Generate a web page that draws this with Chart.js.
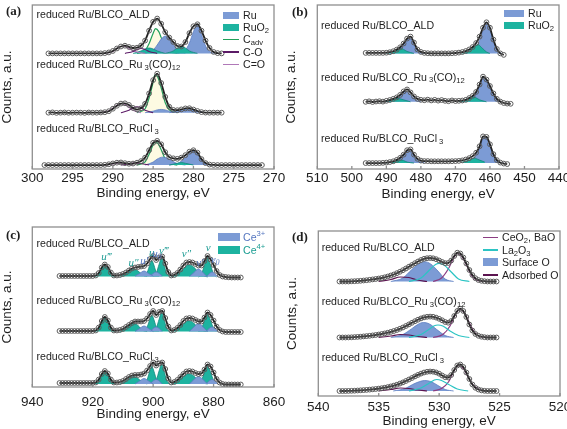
<!DOCTYPE html>
<html>
<head>
<meta charset="utf-8">
<script src="https://cdn.jsdelivr.net/npm/chart.js@4.4.1/dist/chart.umd.min.js"></script>
<style>
  html, body { margin: 0; padding: 0; background: #fff; }
  body { position: relative; width: 567px; height: 429px; overflow: hidden; font-family: "Liberation Sans", Arial, sans-serif; color: #1e1e1e; }
  canvas { position: absolute; }
  .t { position: absolute; font-size: 10.6px; line-height: 12px; white-space: nowrap; }
  .t sub, .t sup { font-size: 0.72em; line-height: 0; }
  .t sub { vertical-align: -0.2em; }
  .t sub.g { margin-left: 2px; }
  .p { position: absolute; font-family: "Liberation Serif", "Times New Roman", serif; font-weight: bold; font-size: 13px; line-height: 14px; }
  .sw { position: absolute; }
</style>
</head>
<body>
<canvas id="ca" width="292" height="212" style="left:0;top:0"></canvas>
<canvas id="cb" width="291" height="212" style="left:276px;top:0"></canvas>
<canvas id="cc" width="292" height="217" style="left:0;top:212px"></canvas>
<canvas id="cd" width="291" height="217" style="left:276px;top:212px"></canvas>

<!-- panel letters -->
<div class="p" style="left:6px;top:4px">(a)</div>
<div class="p" style="left:292px;top:5px">(b)</div>
<div class="p" style="left:6px;top:228px">(c)</div>
<div class="p" style="left:292px;top:230px">(d)</div>

<!-- sample names -->
<div class="t" style="left:36.5px;top:8px">reduced Ru/BLCO_ALD</div>
<div class="t" style="left:36.5px;top:58px">reduced Ru/BLCO_Ru<sub class="g">3</sub>(CO)<sub>12</sub></div>
<div class="t" style="left:36.5px;top:122px">reduced Ru/BLCO_RuCl<sub class="g">3</sub></div>

<div class="t" style="left:321px;top:19px">reduced Ru/BLCO_ALD</div>
<div class="t" style="left:321px;top:70.5px">reduced Ru/BLCO_Ru<sub class="g">3</sub>(CO)<sub>12</sub></div>
<div class="t" style="left:321px;top:132px">reduced Ru/BLCO_RuCl<sub class="g">3</sub></div>

<div class="t" style="left:36.5px;top:236.5px">reduced Ru/BLCO_ALD</div>
<div class="t" style="left:36.5px;top:294px">reduced Ru/BLCO_Ru<sub class="g">3</sub>(CO)<sub>12</sub></div>
<div class="t" style="left:36.5px;top:350px">reduced Ru/BLCO_RuCl<sub class="g">3</sub></div>

<div class="t" style="left:321.7px;top:241px">reduced Ru/BLCO_ALD</div>
<div class="t" style="left:321.7px;top:295px">reduced Ru/BLCO_Ru<sub class="g">3</sub>(CO)<sub>12</sub></div>
<div class="t" style="left:321.7px;top:351px">reduced Ru/BLCO_RuCl<sub class="g">3</sub></div>

<!-- legend (a) -->
<div class="sw" style="left:223px;top:11.5px;width:16px;height:7px;background:#7c9bd5"></div>
<div class="t" style="left:243px;top:9px">Ru</div>
<div class="sw" style="left:223px;top:24px;width:16px;height:7px;background:#1db3a0"></div>
<div class="t" style="left:243px;top:21px">RuO<sub>2</sub></div>
<div class="sw" style="left:223px;top:38.5px;width:16px;height:1.5px;background:#22a05a"></div>
<div class="t" style="left:243px;top:33px">C<sub>adv</sub></div>
<div class="sw" style="left:223px;top:51px;width:16px;height:1.5px;background:#5b1a66"></div>
<div class="t" style="left:243px;top:45.5px">C-O</div>
<div class="sw" style="left:223px;top:63.5px;width:16px;height:1.5px;background:#b078b8"></div>
<div class="t" style="left:243px;top:58px">C=O</div>

<!-- legend (b) -->
<div class="sw" style="left:504px;top:9.5px;width:20px;height:7px;background:#7c9bd5"></div>
<div class="t" style="left:528px;top:7px">Ru</div>
<div class="sw" style="left:504px;top:21.5px;width:20px;height:7px;background:#1db3a0"></div>
<div class="t" style="left:528px;top:19px">RuO<sub>2</sub></div>

<!-- legend (c) -->
<div class="sw" style="left:218px;top:232.5px;width:22px;height:8px;background:#7c9bd5"></div>
<div class="t" style="left:243px;top:230.5px;color:#5677c0">Ce<sup>3+</sup></div>
<div class="sw" style="left:218px;top:246px;width:22px;height:8px;background:#1db3a0"></div>
<div class="t" style="left:243px;top:244px;color:#1a9d92">Ce<sup>4+</sup></div>

<!-- legend (d) -->
<div class="sw" style="left:483px;top:236.5px;width:15px;height:1.5px;background:#8b3c82"></div>
<div class="t" style="left:502px;top:231px">CeO<sub>2</sub>, BaO</div>
<div class="sw" style="left:483px;top:249px;width:15px;height:1.5px;background:#2cc4c4"></div>
<div class="t" style="left:502px;top:243.5px">La<sub>2</sub>O<sub>3</sub></div>
<div class="sw" style="left:483px;top:258px;width:15px;height:8px;background:#7c9bd5"></div>
<div class="t" style="left:502px;top:256px">Surface O</div>
<div class="sw" style="left:483px;top:274px;width:15px;height:1.5px;background:#5c1450"></div>
<div class="t" style="left:502px;top:268.5px">Adsorbed O</div>

<script>
// ---------- (a) C 1s / Ru 3d ----------
const aEnergy = [298.5, 298, 297.5, 297, 296.5, 296, 295.5, 295, 294.5, 294, 293.5, 293, 292.5, 292, 291.5, 291,
  290.5, 290, 289.5, 289, 288.5, 288, 287.5, 287, 286.5, 286, 285.5, 285, 284.5, 284, 283.5, 283, 282.5, 282,
  281.5, 281, 280.5, 280, 279.5, 279, 278.5, 278, 277.5, 277, 276.5, 276, 275.5, 275, 274.5, 274, 273.5, 273,
  272.5, 272, 271.5];
const aAld = [null, 117, 117, 117, 117, 117, 117, 117, 117, 117, 117, 117, 117, 117, 117, 117.3,
  118, 119.5, 122, 124, 124.8, 123.5, 122.5, 122.8, 125, 130, 140, 149, 152.3, 147, 138.5, 133, 128.5, 124.5,
  124, 128.5, 137.5, 144.5, 146.5, 140, 130, 122.5, 118.5, 117.3, 117, null, null, null, null, null, null, null,
  null, null, null];
const aRu3 = [null, 57, 57.3, 56.8, 57, 57.2, 56.9, 57, 57.1, 57, 56.8, 57.2, 57, 57, 57.2, 57.5,
  58.5, 61, 64, 66.2, 66.5, 64.8, 61.8, 60.2, 61.5, 66, 76.5, 90, 96.5, 87, 73, 63, 59.8, 59.5,
  60.3, 61.3, 61.5, 60.2, 58.7, 57.6, 57.1, 57, 57, 57, 57, null, null, null, null, null, null, null,
  null, null, null];
const aCl = [4, 4, 4, 4, 4, 4, 4, 4, 4, 4, 4, 4, 4, 4, 4, 4.2,
  4.8, 5.6, 6.4, 6.6, 5.9, 5.3, 5.5, 6.4, 8, 11.5, 19, 26.5, 28.5, 25, 17, 12, 10.8, 10.3,
  11.5, 14, 17.5, 19, 16.5, 10, 6, 4.5, 4.1, 4, 4, 4, 4, 4, 4, 4, 4, 4,
  4, 4, 4];
const aBase = [117, 57, 4];

const aAldRu = [
  [[282, 117], [281, 120.5], [280.5, 127.5], [280, 139], [279.6, 145.5], [279.2, 141], [278.8, 131], [278.3, 121.5], [277.6, 117.5], [277, 117]],
  [[286, 117], [285, 120.5], [284.5, 125.5], [284, 131.5], [283.5, 134.5], [283, 131.5], [282.5, 126], [282, 121], [281, 117.3]]
];
const aAldRuO2 = [
  [[283.5, 117], [282.5, 119.5], [282, 122.5], [281.5, 124], [281, 122.5], [280.5, 119.5], [279.5, 117]],
  [[287.5, 117], [286.5, 119.5], [286, 121.5], [285.5, 122.5], [285, 121.5], [284.5, 119.5], [283.5, 117]]
];
const aAldCadv = [[287, 117], [286, 120], [285.5, 127], [285, 137.5], [284.7, 142], [284.3, 139], [284, 133], [283.5, 123], [283, 119], [282, 117]];
const aAldCO = [[288.5, 117], [287.5, 119], [287, 121], [286.5, 122], [286, 121], [285.5, 119], [284.5, 117]];
const aAldCdO = [[291, 117], [290, 119], [289.5, 122], [289, 124], [288.7, 124.5], [288.3, 123.5], [287.8, 121], [287, 118.5], [286, 117]];

const aRu3Ru = [
  [[283, 57], [282, 58.5], [281.5, 60], [281, 61.3], [280.5, 61.3], [280, 60], [279.5, 58.5], [278.5, 57]],
  [[286, 57], [285, 58.5], [284.5, 59.8], [284, 60.3], [283.5, 59.8], [283, 58.5], [282, 57]]
];
const aRu3Cadv = [[287, 57], [286, 61], [285.5, 72], [285, 88], [284.8, 95], [284.5, 94], [284, 82], [283.5, 67], [283, 60], [282, 57]];
const aRu3CO = [[289, 57], [288, 59.5], [287.5, 62], [287, 63], [286.5, 62], [286, 59.5], [285, 57]];
const aRu3CdO = [[291.5, 57], [290.5, 59], [290, 61.5], [289.5, 64.5], [289, 66.3], [288.5, 65.5], [288, 62.5], [287.5, 59.5], [286.5, 57]];

const aClRu = [
  [[283, 4], [282, 5.5], [281.5, 8], [281, 11.5], [280.5, 16], [280, 18.3], [279.5, 15], [279, 8.5], [278.5, 5], [278, 4]],
  [[286, 4], [285, 7], [284.5, 10], [283.8, 12], [283, 10], [282.5, 7.5], [282, 5.5], [281, 4]]
];
const aClRuO2 = [[[283, 4], [282, 5.8], [281.5, 6.5], [281, 5.8], [280, 4]]];
const aClCadv = [[287, 4], [286, 7.2], [285.5, 15], [285, 24.5], [284.8, 27], [284.5, 26.5], [284, 19.5], [283.5, 10], [283, 6], [282, 4]];
const aClCO = [[289, 4], [288, 5], [287.3, 6.3], [286.5, 5.5], [285.5, 4]];
const aClCdO = [[291, 4], [290, 5], [289.3, 6.2], [288.5, 5.5], [287.5, 4]];

// ---------- (b) Ru 3p ----------
const bEnergy = [496, 495, 494, 493, 492, 491, 490, 489, 488, 487, 486, 485, 484, 483, 482, 481, 480, 479, 478, 477,
  476, 475, 474, 473, 472, 471, 470, 469, 468, 467, 466, 465, 464, 463, 462, 461, 460, 459, 458, 457, 456, 455, 454];
const bAld = [117.5, 117.5, 117.5, 117.5, 117.5, 117.5, 117.7, 118.2, 119.2, 120.8, 123.2, 127, 132, 134, 128, 121, 118.5, 117.5, 117.2, 117,
  117, 117, 117, 117, 117, 117.2, 117.4, 117.8, 118.4, 119.4, 121, 123.5, 127.5, 134, 143, 148.5, 143, 131, 121.5, 117, 115.5, null, null];
const bRu3 = [68, 68.5, 67.8, 68.3, 68.6, 68.2, 69, 69.8, 71, 72.5, 75, 78.5, 80.5, 77.5, 73.5, 71, 70, 69.6, 70.2, 69.4,
  70, 69.2, 69.8, 69, 68.6, 69.4, 68.8, 69, 69.3, 70, 71.8, 74, 78, 85.5, 93.5, 90.5, 84, 76.5, 71, 68.2, 66.8, 66.2, 66];
const bCl = [6, 6, 6, 6, 6, 6.2, 6.5, 7, 7.8, 9.2, 11.3, 14.5, 19, 19.8, 14.5, 10.3, 8.5, 8, 8, 7.8,
  7.8, 7.8, 7.8, 7.8, 7.8, 7.9, 8, 8.2, 8.7, 9.6, 11, 13, 16.5, 23, 33, 32.5, 25, 15, 9, 6.5, 5.5, 5, null];
const bBase = [117, 68, 6];

const bAldRu = [
  [[489, 117], [487, 119.5], [486, 122], [485, 126], [484, 130.5], [483.3, 132.5], [482.5, 130], [482, 126], [481, 120], [480, 117.5], [479, 117]],
  [[467, 117], [465, 120], [464, 123.5], [463, 130], [462, 140], [461, 147], [460, 142], [459, 130], [458, 121], [457, 117.5], [456.5, 117]]
];
const bAldRuO2 = [
  [[490, 117], [488, 119], [487, 121], [486, 122], [485, 121], [484, 119], [482, 117]],
  [[468, 117], [466, 119.5], [465, 122.5], [464, 125], [463.5, 126], [463, 125], [462, 121.5], [461, 118.5], [460, 117]]
];
const bRu3Ru = [
  [[490, 68], [488, 70], [487, 72], [486, 75], [485, 78], [484.5, 79], [484, 78.5], [483, 75], [482, 71.5], [481, 69], [480, 68]],
  [[468, 68], [466, 71], [465, 73.5], [464, 77], [463, 85], [462, 93], [461, 89], [460, 82], [459, 75], [458, 70], [457, 68]]
];
const bRu3RuO2 = [
  [[491, 68], [489, 70], [488, 71], [487, 71.5], [486, 71], [485, 70], [483, 68]],
  [[469, 68], [467, 70.5], [466, 72], [465, 73], [464, 72], [463, 70], [461, 68]]
];
const bClRu = [
  [[489, 6.5], [487, 8.5], [486, 10.5], [485, 14], [484, 18.5], [483.5, 19.5], [483, 18.5], [482, 13.5], [481, 9], [480, 7], [479, 6.5]],
  [[467, 7], [465, 10.5], [464, 14], [463, 21], [462, 31], [461.5, 33], [461, 32], [460, 24.5], [459, 14.5], [458, 8.5], [457, 6.5], [456, 6]]
];
const bClRuO2 = [
  [[490, 6], [488, 7.5], [487, 8.5], [486, 9], [485, 8.5], [484, 7], [482, 6]],
  [[468, 7], [466, 9], [465, 10.5], [464.5, 11], [464, 10.5], [463, 9], [461.5, 7]]
];

// ---------- (c) Ce 3d ----------
const cEnergy = [931, 930, 929, 928, 927, 926, 925, 924, 923, 922, 921, 920, 919, 918, 917, 916, 915, 914, 913, 912,
  911, 910, 909, 908, 907, 906, 905, 904, 903, 902, 901, 900, 899, 898, 897, 896, 895, 894, 893, 892,
  891, 890, 889, 888, 887, 886, 885, 884, 883, 882, 881, 880, 879, 878, 877, 876, 875, 874, 873, 872, 871, 870];
const cAld = [111, 111, 111, 111, 111, 111, 111, 111, 111, 111, 111, 111, 111.5, 114, 119.5, 122.5, 120, 114.5, 111.5, 111.5,
  112, 113, 114.5, 116.5, 118.5, 119.5, 120, 120.5, 121, 123.5, 128, 131, 127, 129.5, 130.5, 123.5, 115, 111.5, 112, 114,
  117.5, 121.5, 124.5, 125, 124.5, 123, 121.5, 121.5, 126, 131, 127.5, 122, 116, 112, 110.5, 110, 109.7, 109.5, 109.5, 109.5, 109.5, null];
const cRu3 = [56, 56, 56, 56, 56, 56, 56, 56, 56, 56, 56, 56, 56.5, 59.5, 66, 70, 66.5, 59.5, 56.5, 56.5,
  57, 58, 60, 62, 64, 65.5, 65.5, 65.5, 66, 68.5, 73, 76, 72, 75, 76, 69, 60.5, 56.5, 57, 59,
  62, 66, 68.5, 69, 68.5, 67, 65.5, 65.5, 69.5, 74.5, 72, 66.5, 60.5, 57, 55.5, 55, 55, 55, 55, 55, 55, null];
const cCl = [4, 4, 4, 4, 4, 4, 4, 4, 4, 4, 4, 4, 4.5, 7.5, 13, 16, 13.5, 7.5, 4.5, 4.5,
  5, 6, 8, 10, 11.5, 12, 12, 12.5, 13.5, 16.5, 21, 24.5, 21.5, 23.5, 24.5, 18, 8.5, 4.5, 5, 7,
  10, 13, 15.5, 16, 15.5, 14, 13, 13.5, 17.5, 22.5, 20.5, 14.5, 8, 4.5, 3, 2.5, 2.5, 2.5, 2.5, 2.5, 2.5, null];
const cBase = [110.5, 55.5, 3];

const cAldCe4 = [
  [[919.5, 111], [918, 113.5], [917, 118.5], [916, 122], [915, 118], [914, 113], [912.5, 111]],
  [[911, 111], [909, 113.5], [908, 116], [906.5, 118], [905, 116], [904, 113.5], [902, 111]],
  [[903, 111], [902, 114.5], [901, 123], [900.5, 126.5], [900, 124], [899, 115], [898, 111]],
  [[900, 111], [899, 113.5], [898, 123], [897.2, 129], [896.5, 123], [895.5, 113.5], [894.5, 111]],
  [[894, 110.5], [892, 113], [890, 118], [888.5, 122], [887, 121], [885.5, 116.5], [884, 112.5], [882, 110]],
  [[885, 110], [884, 113], [883, 122], [882, 129.5], [881, 122], [880, 113], [879, 110]]
];
const cAldCe3 = [
  [[906, 111], [904.5, 113.5], [903, 116], [901.5, 113.5], [900, 111]],
  [[901, 111], [900, 113.5], [899, 115], [898, 113.5], [897, 111]],
  [[888, 110.5], [886.5, 114.5], [885, 118], [883.5, 114.5], [882, 110]],
  [[882.5, 110], [881.5, 113], [880.5, 115], [879.5, 113], [878.5, 110]]
];
const cRu3Ce4 = [
  [[919.5, 55.5], [918, 58.5], [917, 64.5], [916, 69.5], [915, 65], [914, 58.5], [912.5, 55.5]],
  [[911, 55.5], [909, 58.5], [908, 61.5], [906.5, 63.5], [905, 61.5], [904, 58.5], [902, 55.5]],
  [[903, 55.5], [902, 60], [901, 68.5], [900.5, 72], [900, 69.5], [899, 60.5], [898, 56]],
  [[900, 55.5], [899, 58.5], [898, 68], [897.2, 74.5], [896.5, 68.5], [895.5, 58.5], [894.5, 55.5]],
  [[894, 55.5], [892, 58.5], [890, 63], [888.5, 66], [887, 65], [885.5, 60.5], [884, 57], [882, 55.5]],
  [[885, 55.5], [884, 58.5], [883, 66.5], [882, 73], [881, 66.5], [880, 58.5], [879, 55.5]]
];
const cRu3Ce3 = [
  [[906, 55.5], [904.5, 58.5], [903, 61], [901.5, 58.5], [900, 55.5]],
  [[901, 55.5], [900, 58.5], [899, 60], [898, 58.5], [897, 55.5]],
  [[888, 55.5], [886.5, 60], [885, 63.5], [883.5, 60], [882, 55.5]],
  [[882.5, 55.5], [881.5, 58.5], [880.5, 60], [879.5, 58.5], [878.5, 55.5]]
];
const cClCe4 = [
  [[919.5, 3], [918, 6], [917, 11.5], [916, 15.5], [915, 12], [914, 6], [912.5, 3]],
  [[911, 3], [909, 6], [908, 8.5], [906.5, 10.5], [905, 8.5], [904, 6], [902, 3]],
  [[903, 3], [902, 7.5], [901, 17], [900.5, 20.5], [900, 18], [899, 8.5], [898, 3.5]],
  [[900, 3], [899, 6.5], [898, 16.5], [897.2, 22.5], [896.5, 17], [895.5, 6.5], [894.5, 3]],
  [[894, 3], [892, 6], [890, 10.5], [888.5, 13], [887, 12], [885.5, 8], [884, 4.5], [882, 3]],
  [[885, 3], [884, 6.5], [883, 15], [882, 21], [881, 15], [880, 6.5], [879, 3]]
];
const cClCe3 = [
  [[906, 3], [904.5, 6], [903, 8.5], [901.5, 6], [900, 3]],
  [[901, 3], [900, 6], [899, 7.5], [898, 6], [897, 3]],
  [[888, 3], [886.5, 7.5], [885, 10.5], [883.5, 7.5], [882, 3]],
  [[882.5, 3], [881.5, 6], [880.5, 7.5], [879.5, 6], [878.5, 3]]
];
// peak names over the top spectrum
const cLabelMain = ['u', 'u', 'u', 'u', 'u', 'v', 'v', 'v', 'v', 'v'];
const cLabelMark = ['\u2034', '\u2033', '\u2032', '', '', '\u2034', '\u2033', '\u2032', '', ''];
const cLabelSub = ['', '', '', '', '0', '', '', '', '', '0'];
const cLabelEv = [915.5, 906.5, 903, 900.5, 898.8, 896.5, 889, 884.5, 881.8, 879.5];
const cLabelVal = [130, 124, 126, 134, 133, 136, 133, 124, 139, 127];
const cLabelCe4 = [true, true, false, true, false, true, true, false, true, false];

// ---------- (d) O 1s ----------
const dEnergy = [538.25, 538, 537.75, 537.5, 537.25, 537, 536.75, 536.5, 536.25, 536, 535.75, 535.5, 535.25,
  535, 534.75, 534.5, 534.25, 534, 533.75, 533.5, 533.25, 533, 532.75, 532.5, 532.25, 532,
  531.75, 531.5, 531.25, 531, 530.75, 530.5, 530.25, 530, 529.75, 529.5, 529.25, 529,
  528.75, 528.5, 528.25, 528, 527.75, 527.5, 527.25, 527, 526.75, 526.5, 526.25, 526, 525.75, 525.5, 525.25];
const dAld = [114.5, 114.5, 114.5, 114.5, 114.7, 114.8, 115, 115.2, 115.5, 115.8, 116.2, 116.6, 117,
  117.5, 118, 118.7, 119.5, 120.5, 121.5, 122.8, 124.2, 125.8, 127.5, 129.3, 131, 132.8,
  134.5, 136, 137.2, 137.8, 138, 137.7, 136.8, 135.5, 134, 132.8, 133, 135.5,
  140, 143.3, 142.5, 138.5, 132.5, 126, 121, 117.8, 116, 115.2, 114.8, 114.5, 114.5, 114.5, 114.5];
const dRu3 = [58.5, 58.5, 58.5, 58.6, 58.7, 58.9, 59.1, 59.3, 59.6, 59.9, 60.2, 60.6, 61,
  61.5, 62, 62.6, 63.3, 64.1, 65, 66, 67.2, 68.5, 70, 71.6, 73.2, 74.8,
  76.3, 77.6, 78.6, 79.2, 79.4, 79.2, 78.4, 77.2, 75.7, 74, 73.3, 75,
  80, 85, 87.3, 85, 79, 71.5, 65.5, 62, 60.2, 59.3, 58.8, 58.5, 58.5, 58.5, 58.5];
const dCl = [5, 5, 5, 5.1, 5.2, 5.3, 5.5, 5.7, 5.9, 6.1, 6.4, 6.7, 7,
  7.4, 7.8, 8.3, 8.9, 9.6, 10.4, 11.3, 12.4, 13.6, 15, 16.5, 18, 19.6,
  21.1, 22.4, 23.5, 24.2, 24.5, 24.3, 23.6, 22.3, 20.5, 18.8, 18.5, 21,
  26, 30.5, 31.5, 29, 23.5, 17, 11.5, 8.2, 6.5, 5.6, 5.2, 5, 5, 5, 5];
const dBase = [114.5, 58.5, 5];

const dAldSurf = [[534, 114.5], [533, 118], [532.3, 126], [531.7, 132], [531.2, 134.3], [530.7, 132], [530.1, 125], [529.5, 117], [528.8, 114.5]];
const dAldLa = [[532.5, 114.5], [531.5, 118], [530.8, 126], [530.3, 131.5], [530, 132.7], [529.6, 131], [529, 124], [528.4, 117], [527.5, 114.5]];
const dAldCe = [[530.5, 114.5], [529.8, 118], [529.2, 128], [528.8, 138], [528.5, 142.5], [528.1, 139], [527.7, 130], [527.3, 120], [526.7, 115], [526, 114.5]];
const dAldAds = [[535, 114.5], [534, 116.5], [533.2, 119], [532.5, 118.5], [531.8, 116], [531, 114.5]];
const dRu3Surf = [[534, 58.5], [533, 61.5], [532.3, 67], [531.7, 72], [531.3, 73.5], [530.8, 72], [530.2, 66.5], [529.5, 60.5], [528.8, 58.5]];
const dRu3La = [[532.5, 58.5], [531.5, 61.5], [530.8, 67], [530.4, 70.3], [530.1, 71], [529.7, 70], [529.1, 65], [528.4, 60.5], [527.5, 58.5]];
const dRu3Ce = [[530.5, 58.5], [529.7, 61.5], [529.1, 70], [528.7, 80.5], [528.3, 86.5], [527.9, 83], [527.5, 73], [527.1, 64], [526.5, 59], [525.8, 58.5]];
const dRu3Ads = [[535, 58.5], [534, 60], [533.2, 61.5], [532.5, 61], [531.8, 59.5], [531, 58.5]];
const dClSurf = [[533.8, 5], [532.8, 7.5], [532.2, 11.5], [531.6, 14.5], [531.2, 15.5], [530.7, 14.5], [530.1, 10.5], [529.5, 6.5], [528.8, 5]];
const dClLa = [[532.5, 5], [531.5, 8], [530.8, 13], [530.4, 16], [530.2, 16.5], [529.8, 15.5], [529.2, 11.5], [528.5, 7], [527.6, 5]];
const dClCe = [[530.5, 5], [529.8, 7.5], [529.2, 14.5], [528.8, 24.5], [528.4, 30.5], [528, 27.5], [527.6, 19], [527.2, 11], [526.6, 6], [525.9, 5]];
const dClAds = [[535, 5], [534, 6.5], [533.2, 8], [532.5, 7.5], [531.8, 6], [531, 5]];

// ---------- styling ----------
const FONT = '"Liberation Sans", Arial, sans-serif';
const BLUE = '#7c9bd5', BLUE_EDGE = '#5a7cc2';
const TEAL = '#1db3a0', TEAL_EDGE = '#12877b';

function envelope(energy, vals) {
  return {
    data: energy.map((e, i) => ({ x: e, y: vals[i] })),
    borderColor: '#222',
    borderWidth: 1.8,
    pointRadius: 2.4,
    pointBorderWidth: 1,
    pointBorderColor: '#5c5c5c',
    pointBackgroundColor: 'rgba(0,0,0,0)',
    cubicInterpolationMode: 'monotone',
    fill: false,
    order: 0
  };
}

function peaks(list, base, line, area, width, order) {
  return list.map(p => ({
    data: p.map(q => ({ x: q[0], y: q[1] })),
    borderColor: line,
    borderWidth: width,
    backgroundColor: area || 'rgba(0,0,0,0)',
    fill: area ? { value: base } : false,
    pointRadius: 0,
    cubicInterpolationMode: 'monotone',
    order: order
  }));
}

const framePlugin = {
  id: 'frame',
  afterDraw(chart) {
    const { ctx, chartArea: a, scales: { x } } = chart;
    ctx.save();
    ctx.strokeStyle = '#8f8f8f';
    ctx.lineWidth = 1.3;
    ctx.strokeRect(a.left, a.top, a.right - a.left, a.bottom - a.top);
    x.ticks.forEach(t => {
      const px = x.getPixelForValue(t.value);
      ctx.beginPath();
      ctx.moveTo(px, a.bottom);
      ctx.lineTo(px, a.bottom - 3);
      ctx.stroke();
    });
    ctx.restore();
  }
};

const peakLabelPlugin = {
  id: 'peakLabels',
  afterDatasetsDraw(chart, args, o) {
    if (!o.main) return;
    const { ctx, scales: { x, y } } = chart;
    ctx.save();
    ctx.textBaseline = 'middle';
    o.main.forEach((m, i) => {
      const big = 'italic 11px "Liberation Serif", serif';
      const small = 'italic 7.5px "Liberation Serif", serif';
      ctx.font = big;
      const w1 = ctx.measureText(m + o.mark[i]).width;
      ctx.font = small;
      const w2 = o.sub[i] ? ctx.measureText(o.sub[i]).width : 0;
      let px = x.getPixelForValue(o.ev[i]) - (w1 + w2) / 2;
      const py = y.getPixelForValue(o.val[i]);
      ctx.fillStyle = o.ce4[i] ? '#1e9c94' : '#5677c0';
      ctx.font = big;
      ctx.fillText(m + o.mark[i], px, py);
      if (o.sub[i]) {
        ctx.font = small;
        ctx.fillText(o.sub[i], px + w1, py + 3);
      }
    });
    ctx.restore();
  }
};

Chart.register(framePlugin, peakLabelPlugin);

function options(xmin, xmax, step, ymax, g, labels) {
  return {
    responsive: false,
    animation: false,
    devicePixelRatio: 1,
    events: [],
    layout: { padding: { top: g.top, right: g.right, left: 0, bottom: 0 } },
    plugins: { legend: { display: false }, tooltip: { enabled: false }, peakLabels: labels || {} },
    scales: {
      x: {
        type: 'linear', reverse: true, min: xmin, max: xmax,
        ticks: { stepSize: step, color: '#1e1e1e', font: { size: 13.5, family: FONT }, padding: g.tickPad, maxRotation: 0, autoSkip: false },
        grid: { display: false, drawTicks: false },
        border: { display: false },
        title: { display: true, text: 'Binding energy, eV', color: '#1e1e1e', font: { size: 13.5, family: FONT, lineHeight: 1 }, padding: { top: 0, bottom: g.titlePad } },
        afterFit: s => { s.height = g.xh; s.paddingLeft = 0; s.paddingRight = 0; }
      },
      y: {
        min: 0, max: ymax,
        ticks: { display: false },
        grid: { display: false, drawTicks: false },
        border: { display: false },
        title: { display: true, text: 'Counts, a.u.', color: '#1e1e1e', font: { size: 13.5, family: FONT, lineHeight: 1 }, padding: { top: g.ytPad, bottom: 0 } },
        afterFit: s => { s.width = g.yw; }
      }
    }
  };
}

// (a)
new Chart(document.getElementById('ca'), {
  type: 'line',
  data: {
    datasets: [
      envelope(aEnergy, aAld), envelope(aEnergy, aRu3), envelope(aEnergy, aCl),
      ...peaks([aAldCadv], aBase[0], '#22a05a', '#fdfae2', 1.2, 5),
      ...peaks(aAldRu, aBase[0], BLUE_EDGE, BLUE, 0.8, 4),
      ...peaks(aAldRuO2, aBase[0], TEAL_EDGE, TEAL, 0.8, 3),
      ...peaks([aAldCO], aBase[0], '#5b1a66', null, 1.1, 2),
      ...peaks([aAldCdO], aBase[0], '#b078b8', null, 1.1, 2),
      ...peaks([aRu3Cadv], aBase[1], '#22a05a', '#fdfae2', 1.2, 5),
      ...peaks(aRu3Ru, aBase[1], BLUE_EDGE, BLUE, 0.8, 4),
      ...peaks([aRu3CO], aBase[1], '#5b1a66', null, 1.1, 2),
      ...peaks([aRu3CdO], aBase[1], '#b078b8', null, 1.1, 2),
      ...peaks([aClCadv], aBase[2], '#22a05a', '#fdfae2', 1.2, 5),
      ...peaks(aClRu, aBase[2], BLUE_EDGE, BLUE, 0.8, 4),
      ...peaks(aClRuO2, aBase[2], TEAL_EDGE, TEAL, 0.8, 3),
      ...peaks([aClCO], aBase[2], '#5b1a66', null, 1.1, 2),
      ...peaks([aClCdO], aBase[2], '#b078b8', null, 1.1, 2)
    ]
  },
  options: options(270, 300, 5, 166, { top: 3, right: 18, yw: 32.3, xh: 43, tickPad: 1.2, titlePad: 11.75, ytPad: 1 })
});

// (b)
new Chart(document.getElementById('cb'), {
  type: 'line',
  data: {
    datasets: [
      envelope(bEnergy, bAld), envelope(bEnergy, bRu3), envelope(bEnergy, bCl),
      ...peaks(bAldRu, bBase[0], BLUE_EDGE, BLUE, 0.8, 4),
      ...peaks(bAldRuO2, bBase[0], TEAL_EDGE, TEAL, 0.8, 3),
      ...peaks(bRu3Ru, bBase[1], BLUE_EDGE, BLUE, 0.8, 4),
      ...peaks(bRu3RuO2, bBase[1], TEAL_EDGE, TEAL, 0.8, 3),
      ...peaks(bClRu, bBase[2], BLUE_EDGE, BLUE, 0.8, 4),
      ...peaks(bClRuO2, bBase[2], TEAL_EDGE, TEAL, 0.8, 3)
    ]
  },
  options: options(440, 510, 10, 166, { top: 3, right: 8, yw: 41.3, xh: 43, tickPad: 1.2, titlePad: 11.25, ytPad: 9 })
});

// (c)
new Chart(document.getElementById('cc'), {
  type: 'line',
  data: {
    datasets: [
      envelope(cEnergy, cAld), envelope(cEnergy, cRu3), envelope(cEnergy, cCl),
      ...peaks(cAldCe4, cBase[0], TEAL_EDGE, TEAL, 0.8, 4),
      ...peaks(cAldCe3, cBase[0], BLUE_EDGE, BLUE, 0.8, 3),
      ...peaks(cRu3Ce4, cBase[1], TEAL_EDGE, TEAL, 0.8, 4),
      ...peaks(cRu3Ce3, cBase[1], BLUE_EDGE, BLUE, 0.8, 3),
      ...peaks(cClCe4, cBase[2], TEAL_EDGE, TEAL, 0.8, 4),
      ...peaks(cClCe3, cBase[2], BLUE_EDGE, BLUE, 0.8, 3)
    ]
  },
  options: options(860, 940, 20, 160, { top: 15, right: 18, yw: 32.3, xh: 42, tickPad: 7.6, titlePad: 8.25, ytPad: 1 },
    { main: cLabelMain, mark: cLabelMark, sub: cLabelSub, ev: cLabelEv, val: cLabelVal, ce4: cLabelCe4 })
});

// (d)
new Chart(document.getElementById('cd'), {
  type: 'line',
  data: {
    datasets: [
      envelope(dEnergy, dAld), envelope(dEnergy, dRu3), envelope(dEnergy, dCl),
      ...peaks([dAldSurf], dBase[0], BLUE_EDGE, BLUE, 0.8, 4),
      ...peaks([dAldLa], dBase[0], '#2cc4c4', null, 1.2, 2),
      ...peaks([dAldCe], dBase[0], '#8b3c82', null, 1.2, 2),
      ...peaks([dAldAds], dBase[0], '#5c1450', null, 1.2, 2),
      ...peaks([dRu3Surf], dBase[1], BLUE_EDGE, BLUE, 0.8, 4),
      ...peaks([dRu3La], dBase[1], '#2cc4c4', null, 1.2, 2),
      ...peaks([dRu3Ce], dBase[1], '#8b3c82', null, 1.2, 2),
      ...peaks([dRu3Ads], dBase[1], '#5c1450', null, 1.2, 2),
      ...peaks([dClSurf], dBase[2], BLUE_EDGE, BLUE, 0.8, 4),
      ...peaks([dClLa], dBase[2], '#2cc4c4', null, 1.2, 2),
      ...peaks([dClCe], dBase[2], '#8b3c82', null, 1.2, 2),
      ...peaks([dClAds], dBase[2], '#5c1450', null, 1.2, 2)
    ]
  },
  options: options(520, 540, 5, 165, { top: 19, right: 7, yw: 42.3, xh: 33, tickPad: 2.9, titlePad: 0.75, ytPad: 10 })
});
</script>
</body>
</html>
